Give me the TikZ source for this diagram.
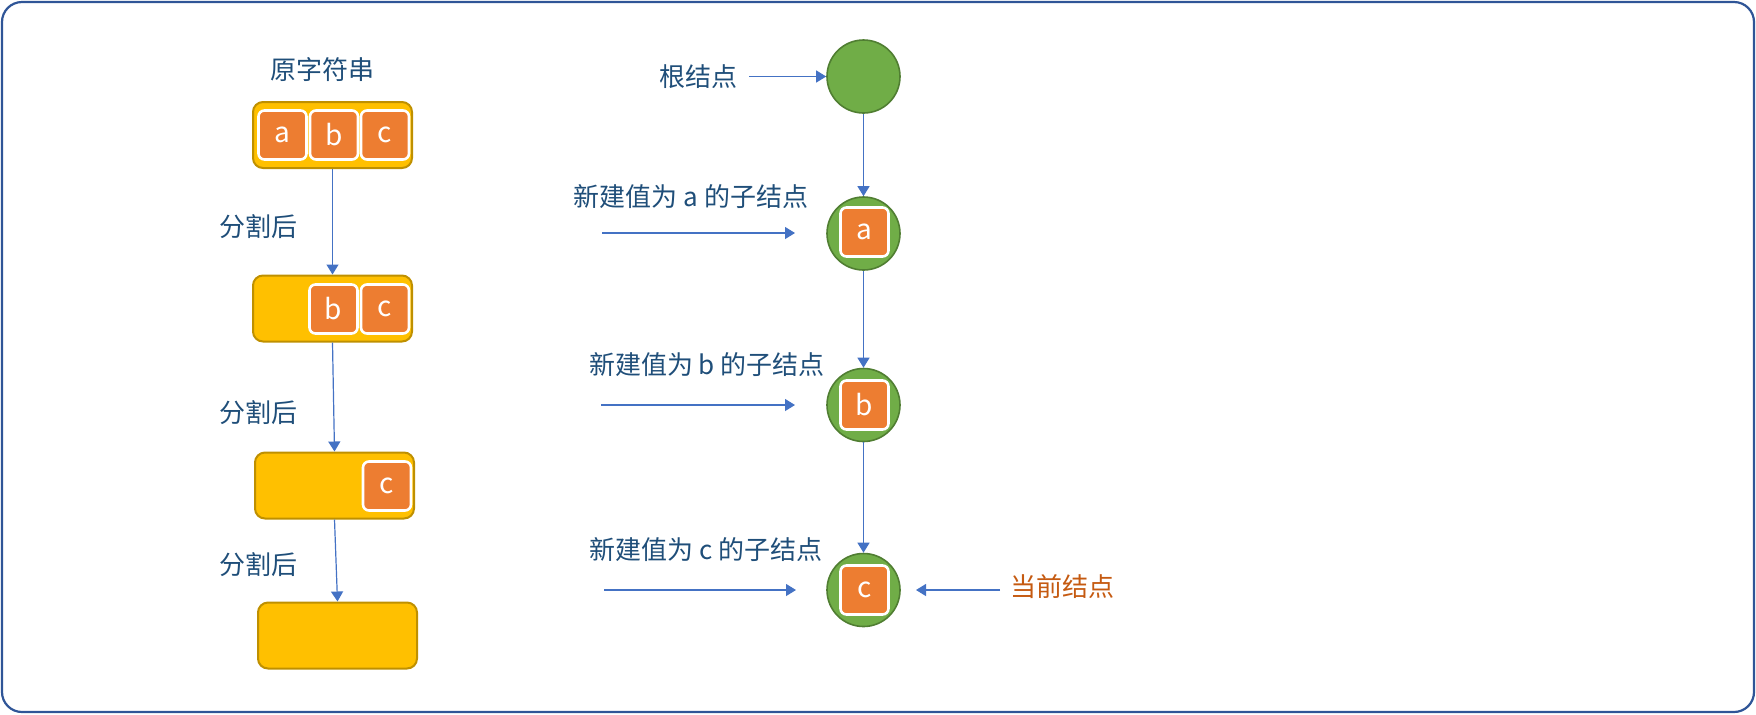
\documentclass[tikz,border=0pt]{standalone}
\usepackage{fontspec}
\setmainfont{Noto Sans CJK SC}
\usetikzlibrary{arrows.meta}
\definecolor{frameblue}{HTML}{2F5597}
\definecolor{txtblue}{HTML}{1F4E79}
\definecolor{curorange}{HTML}{C55A11}
\definecolor{yfill}{HTML}{FFC000}
\definecolor{ydraw}{HTML}{BF9000}
\definecolor{ofill}{HTML}{ED7D31}
\definecolor{gfill}{HTML}{70AD47}
\definecolor{gdraw}{HTML}{507E32}
\definecolor{arr}{HTML}{4472C4}
\tikzset{
  strbox/.style={draw=ydraw, fill=yfill, line width=1pt, rounded corners=5pt,
    minimum width=79.5pt, minimum height=33pt, inner sep=0pt},
  chsq/.style={draw=white, fill=ofill, line width=1.3pt, rounded corners=3pt,
    minimum width=24pt, minimum height=24.5pt, inner sep=0pt, text=white,
    font=\fontsize{14pt}{16pt}\selectfont},
  tnode/.style={circle, draw=gdraw, fill=gfill, line width=0.8pt,
    minimum size=36.5pt, inner sep=0pt},
  lbl/.style={text=txtblue, font=\fontsize{13pt}{15pt}\selectfont, inner sep=0pt},
  conn/.style={draw=arr, line width=0.6pt, -{Triangle[length=5pt,width=6pt]}},
}
\begin{document}
\begin{tikzpicture}[x=0.5pt,y=-0.5pt]
\useasboundingbox (0,0) rectangle (1756,714);
\draw[frameblue, line width=1.1pt, rounded corners=10pt] (2,2) rectangle (1754,712);

% left column
\node[lbl] (title) at (322,70) {原字符串};
\node[strbox] (box1) at (332.5,135) {};
\node[chsq] (s1a) at (282.5,135) {a};
\node[chsq] (s1b) at (334,135) {b};
\node[chsq] (s1c) at (385,135) {c};

\node[strbox] (box2) at (332.5,308.5) {};
\node[chsq] (s2b) at (333.5,309) {b};
\node[chsq] (s2c) at (385,309) {c};

\node[strbox] (box3) at (334.5,485.5) {};
\node[chsq] (s3c) at (387,486) {c};

\node[strbox] (box4) at (337.5,635.5) {};

\node[lbl] (sp1) at (258,227) {分割后};
\node[lbl] (sp2) at (258,413) {分割后};
\node[lbl] (sp3) at (258,565) {分割后};

\draw[conn] (box1.south) -- (box2.north);
\draw[conn] (box2.south) -- (box3.north);
\draw[conn] (box3.south) -- (box4.north);

% right column
\node[tnode] (root) at (863.5,76.5) {};
\node[tnode] (na) at (863.5,233.5) {};
\node[chsq] (qa) at (864.5,232) {a};
\node[tnode] (nb) at (863.5,405) {};
\node[chsq] (qb) at (864.5,405) {b};
\node[tnode] (nc) at (863.5,590) {};
\node[chsq] (qc) at (864.5,590) {c};

\draw[conn] (root) -- (na);
\draw[conn] (na) -- (nb);
\draw[conn] (nb) -- (nc);

\node[lbl] (lroot) at (698,77) {根结点};
\coordinate (r0) at (749,76.5);
\draw[conn] (r0) -- (root.west);

\node[lbl] (la) at (691,197) {新建值为 a 的子结点};
\coordinate (a0) at (602,233);
\coordinate (a1) at (795,233);
\draw[conn] (a0) -- (a1);

\node[lbl] (lb) at (707,365) {新建值为 b 的子结点};
\coordinate (b0) at (601,405);
\coordinate (b1) at (795,405);
\draw[conn] (b0) -- (b1);

\node[lbl] (lc) at (706,550) {新建值为 c 的子结点};
\coordinate (c0) at (604,590);
\coordinate (c1) at (796,590);
\draw[conn] (c0) -- (c1);

\node[lbl, text=curorange] (lcur) at (1062,587) {当前结点};
\coordinate (d0) at (1000,590);
\coordinate (d1) at (916,590);
\draw[conn] (d0) -- (d1);
\end{tikzpicture}
\end{document}
